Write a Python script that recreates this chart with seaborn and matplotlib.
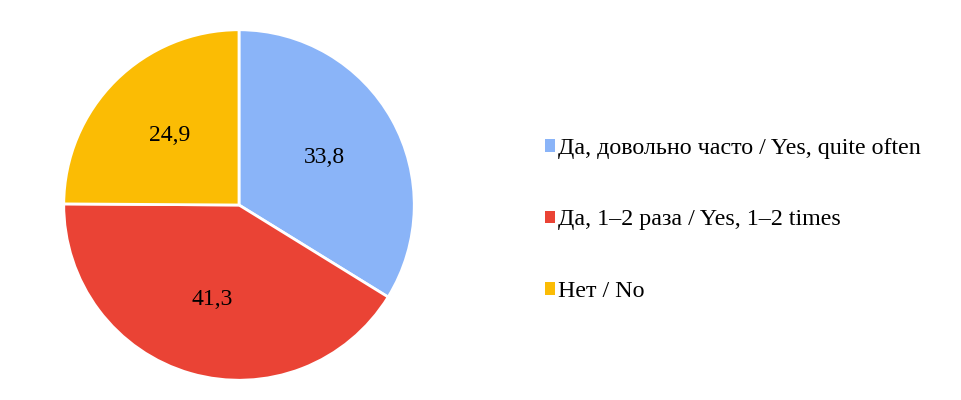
import matplotlib
matplotlib.use("Agg")
import matplotlib.pyplot as plt
from matplotlib.patches import Patch
import seaborn as sns

# data
labels = [
    "Да, довольно часто / Yes, quite often",
    "Да, 1–2 раза / Yes, 1–2 times",
    "Нет / No",
]
shares = [33.8, 41.3, 24.9]
colors = ["#8AB4F8", "#EA4335", "#FBBC04"]

sns.set_theme(style="white")
plt.rcParams["font.family"] = ["Liberation Serif", "DejaVu Serif"]
plt.rcParams["text.color"] = "black"

palette = sns.color_palette(colors)

fig = plt.figure(figsize=(9.61, 4.0), dpi=100)
ax = fig.add_axes([62 / 961, 18 / 400, 354 / 961, 354 / 400])

wedges, texts, autotexts = ax.pie(
    shares,
    colors=palette,
    startangle=90,
    counterclock=False,
    autopct=lambda p: f"{p:.1f}".replace(".", ","),
    pctdistance=0.56,
    wedgeprops={"edgecolor": "white", "linewidth": 2},
    textprops={"fontsize": 17, "color": "black"},
)
ax.set_xlim(-1.01, 1.01)
ax.set_ylim(-1.01, 1.01)
ax.set_aspect("equal")

handles = [Patch(facecolor=c, edgecolor="none") for c in palette]
leg = fig.legend(
    handles, labels,
    loc="center left",
    bbox_to_anchor=(535 / 961, 180 / 400),
    frameon=False,
    fontsize=17.3,
    handlelength=0.42,
    handleheight=0.42,
    handletextpad=0.15,
    labelspacing=2.1,
    borderaxespad=0,
)
for t in leg.get_texts():
    t.set_color("black")

fig.savefig("out.png", dpi=100)
